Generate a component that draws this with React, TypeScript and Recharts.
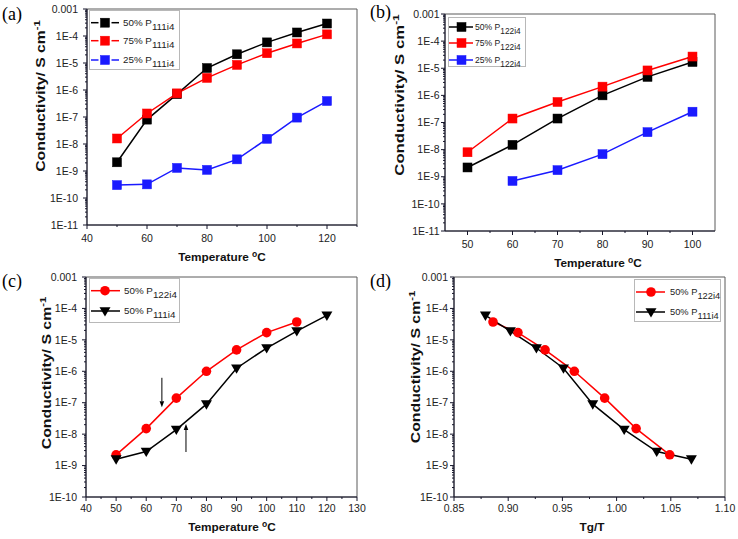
import React from 'react';
import { LineChart, Line, XAxis, YAxis, ReferenceArea, ReferenceLine } from 'recharts';

// ---------- Panel (a): P111i4 ----------
const tempA = [50, 60, 70, 80, 90, 100, 110, 120];
const a50P111 = [2.1e-9, 8e-8, 7e-7, 6.5e-6, 2.1e-5, 5.8e-5, 1.35e-4, 2.9e-4];
const a75P111 = [1.6e-8, 1.35e-7, 7.5e-7, 2.8e-6, 8.5e-6, 2.3e-5, 5.3e-5, 1.15e-4];
const a25P111 = [3e-10, 3.2e-10, 1.3e-9, 1.1e-9, 2.7e-9, 1.55e-8, 9.5e-8, 3.9e-7];

// ---------- Panel (b): P122i4 ----------
const tempB = [50, 60, 70, 80, 90, 100];
const b50P122 = [2.2e-9, 1.5e-8, 1.4e-7, 1.0e-6, 4.8e-6, 1.7e-5];
const b75P122 = [8e-9, 1.4e-7, 5.7e-7, 2.1e-6, 8.3e-6, 2.7e-5];
const tempB25 = [60, 70, 80, 90, 100];
const b25P122 = [7e-10, 1.75e-9, 6.8e-9, 4.4e-8, 2.5e-7];

// ---------- Panel (c): 50% comparison vs temperature ----------
const tempC122 = [50, 60, 70, 80, 90, 100, 110];
const c50P122 = [2.2e-9, 1.5e-8, 1.4e-7, 1.0e-6, 4.8e-6, 1.7e-5, 3.7e-5];
const tempC111 = [50, 60, 70, 80, 90, 100, 110, 120];
const c50P111 = [1.6e-9, 2.8e-9, 1.4e-8, 9e-8, 1.25e-6, 5.5e-6, 1.9e-5, 6e-5];
// arrows in (c): [x, yStart, yEnd]
const arrowDown = [65.2, 6.2e-7, 7.2e-8];
const arrowUp = [73.2, 2.7e-9, 2.1e-8];

// ---------- Panel (d): 50% comparison vs Tg/T ----------
const tgT122 = [0.886, 0.909, 0.934, 0.961, 0.989, 1.018, 1.049];
const d50P122 = [3.7e-5, 1.7e-5, 4.8e-6, 1.0e-6, 1.4e-7, 1.5e-8, 2.2e-9];
const tgT111 = [0.879, 0.902, 0.926, 0.951, 0.978, 1.007, 1.037, 1.069];
const d50P111 = [6e-5, 1.9e-5, 5.5e-6, 1.25e-6, 9e-8, 1.4e-8, 2.8e-9, 1.6e-9];

// ---------- Tick values and labels ----------
const yTickLabels = ['0.001', '1E-4', '1E-5', '1E-6', '1E-7', '1E-8', '1E-9', '1E-10', '1E-11'];
const xTicksA = [40, 50, 60, 70, 80, 90, 100, 110, 120, 130];
const xMajorsA = [40, 60, 80, 100, 120];
const xLabelsA = ['40', '60', '80', '100', '120'];
const xTicksB = [50, 55, 60, 65, 70, 75, 80, 85, 90, 95, 100];
const xMajorsB = [50, 60, 70, 80, 90, 100];
const xLabelsB = ['50', '60', '70', '80', '90', '100'];
const xTicksC = [40, 45, 50, 55, 60, 65, 70, 75, 80, 85, 90, 95, 100, 105, 110, 115, 120, 125, 130];
const xMajorsC = [40, 50, 60, 70, 80, 90, 100, 110, 120, 130];
const xLabelsC = ['40', '50', '60', '70', '80', '90', '100', '110', '120', '130'];
const xTicksD = [0.85, 0.875, 0.9, 0.925, 0.95, 0.975, 1.0, 1.025, 1.05, 1.075, 1.1];
const xMajorsD = [0.85, 0.9, 0.95, 1.0, 1.05, 1.1];
const xLabelsD = ['0.85', '0.90', '0.95', '1.00', '1.05', '1.10'];

const FONT = '"Liberation Sans", Arial, sans-serif';
const AXIS = '#15152a';
const FRAME = '#5a5a5a';
const TICK_C = '#222';
const TICK_FS = 10.5;
const RED = '#ff0000';
const BLUE = '#1a1aff';
const BLACK = '#000000';

const logTicks = (lo: number, hi: number) => {
  const arr: number[] = [];
  for (let e = lo; e < hi; e++) {
    for (let m = 1; m < 10; m++) arr.push(m * Number('1e' + e));
  }
  arr.push(Number('1e' + hi));
  return arr;
};
const yTicks11 = logTicks(-11, -3);
const yTicks10 = logTicks(-10, -3);

const zip = (xs: number[], ys: number[]) => xs.map((x, i) => ({ x, y: ys[i] }));

type Marker = 'square' | 'circle' | 'tri';

const drawMarker = (marker: Marker, color: string, cx: number, cy: number, key?: any) => {
  if (marker === 'square') {
    return <rect key={key} x={cx - 4.5} y={cy - 4.5} width={9} height={9} fill={color} stroke={color} strokeWidth={0.5} />;
  }
  if (marker === 'circle') {
    return <circle key={key} cx={cx} cy={cy} r={4.8} fill={color} />;
  }
  return (
    <polygon
      key={key}
      points={`${cx - 5.5},${cy - 3.8} ${cx + 5.5},${cy - 3.8} ${cx},${cy + 5.5}`}
      fill={color}
    />
  );
};

const dotRenderer = (marker: Marker, color: string) => (p: any) => {
  const { cx, cy, index } = p;
  if (cx == null || cy == null) return <g key={index} />;
  return drawMarker(marker, color, cx, cy, index);
};

const makeYTick = (gap: number) => (p: any) => {
  const { x, y, payload } = p;
  const v = payload.value as number;
  const lg = Math.log10(v);
  const e = Math.round(lg);
  const major = Math.abs(lg - e) < 1e-6;
  const len = major ? 4 : 2;
  return (
    <g>
      <line x1={x - len} y1={y} x2={x} y2={y} stroke={AXIS} strokeWidth={1} />
      {major ? (
        <text x={x - gap} y={y} dy="0.35em" textAnchor="end" fontSize={TICK_FS} fontFamily={FONT} fill={TICK_C}>
          {yTickLabels[-3 - e]}
        </text>
      ) : null}
    </g>
  );
};

const makeXTick = (majors: number[], labels: string[], offset: number) => (p: any) => {
  const { x, y, payload } = p;
  const v = payload.value as number;
  const i = majors.findIndex((m) => Math.abs(m - v) < 1e-9);
  const len = i >= 0 ? 4 : 2;
  return (
    <g>
      <line x1={x} y1={y} x2={x} y2={y + len} stroke={AXIS} strokeWidth={1} />
      {i >= 0 ? (
        <text x={x} y={y + offset} dy="0.35em" textAnchor="middle" fontSize={TICK_FS} fontFamily={FONT} fill={TICK_C}>
          {labels[i]}
        </text>
      ) : null}
    </g>
  );
};

const ArrowShape = (props: any) => {
  const { x1, y1, x2, y2 } = props;
  const dir = y2 > y1 ? 1 : -1;
  const head = 6;
  const hw = 2.3;
  return (
    <g>
      <line x1={x1} y1={y1} x2={x2} y2={y2 - dir * head} stroke="#000" strokeWidth={1} />
      <polygon points={`${x2 - hw},${y2 - dir * head} ${x2 + hw},${y2 - dir * head} ${x2},${y2}`} fill="#000" />
    </g>
  );
};

type Series = { key: string; color: string; marker: Marker; data: { x: number; y: number }[] };

type PanelProps = {
  left: number;
  top: number;
  width: number;
  height: number;
  margin: { top: number; right: number; bottom: number; left: number };
  yWidth: number;
  yGap: number;
  xDomain: [number, number];
  xTicks: number[];
  xMajors: number[];
  xLabels: string[];
  xOffset: number;
  yDomain: [number, number];
  yTicks: number[];
  series: Series[];
  extra?: React.ReactNode[];
};

const Panel = (pp: PanelProps) => (
  <div style={{ position: 'absolute', left: pp.left, top: pp.top }}>
    <LineChart width={pp.width} height={pp.height} margin={pp.margin}>
      <XAxis
        type="number"
        dataKey="x"
        domain={pp.xDomain}
        allowDataOverflow
        ticks={pp.xTicks}
        interval={0}
        height={30}
        tickSize={0}
        tickMargin={0}
        tickLine={false}
        axisLine={{ stroke: AXIS, strokeWidth: 1 }}
        tick={makeXTick(pp.xMajors, pp.xLabels, pp.xOffset)}
      />
      <YAxis
        type="number"
        scale="log"
        domain={pp.yDomain}
        allowDataOverflow
        ticks={pp.yTicks}
        interval={0}
        width={pp.yWidth}
        tickSize={0}
        tickMargin={0}
        tickLine={false}
        axisLine={{ stroke: AXIS, strokeWidth: 1 }}
        tick={makeYTick(pp.yGap)}
      />
      <ReferenceArea
        x1={pp.xDomain[0]}
        x2={pp.xDomain[1]}
        y1={pp.yDomain[0]}
        y2={pp.yDomain[1]}
        fill="none"
        fillOpacity={0}
        stroke={FRAME}
        strokeWidth={1}
      />
      {pp.series.map((s) => (
        <Line
          key={s.key}
          data={s.data}
          dataKey="y"
          stroke={s.color}
          strokeWidth={1.5}
          dot={dotRenderer(s.marker, s.color)}
          activeDot={false}
          isAnimationActive={false}
        />
      ))}
      {pp.extra}
    </LineChart>
  </div>
);

// ---------- overlays ----------
const YTitle = ({ cx, cy, length }: { cx: number; cy: number; length: number }) => (
  <div
    style={{
      position: 'absolute',
      left: cx,
      top: cy,
      transform: `translate(-50%,-50%) rotate(-90deg) scaleX(${length / 116})`,
      whiteSpace: 'nowrap',
      fontFamily: FONT,
      fontWeight: 'bold',
      fontSize: 12,
      lineHeight: '14px',
      color: '#111',
    }}
  >
    Conductivity/ S cm
    <span style={{ fontSize: 8.5, position: 'relative', top: -5 }}>-1</span>
  </div>
);

const XTitle = ({ cx, cy, children }: { cx: number; cy: number; children: React.ReactNode }) => (
  <div
    style={{
      position: 'absolute',
      left: cx,
      top: cy,
      transform: 'translate(-50%,-50%)',
      whiteSpace: 'nowrap',
      fontFamily: FONT,
      fontWeight: 'bold',
      fontSize: 11.8,
      lineHeight: '14px',
      color: '#111',
    }}
  >
    {children}
  </div>
);

const PanelLabel = ({ x, cy, text }: { x: number; cy: number; text: string }) => (
  <div
    style={{
      position: 'absolute',
      left: x,
      top: cy - 9,
      fontFamily: '"Liberation Serif", "Times New Roman", serif',
      fontSize: 18,
      lineHeight: '18px',
      color: '#000',
    }}
  >
    {text}
  </div>
);

type LegItem = { label: string; sub: string; color: string; marker: Marker };

const LegendBox = ({
  left,
  top,
  width,
  height,
  rows,
  items,
  s0,
  s1,
  mx,
  tx,
  fs,
  subFs,
  gapLine,
}: {
  left: number;
  top: number;
  width: number;
  height: number;
  rows: number[];
  items: LegItem[];
  s0: number;
  s1: number;
  mx: number;
  tx: number;
  fs: number;
  subFs: number;
  gapLine: boolean;
}) => (
  <svg style={{ position: 'absolute', left, top, overflow: 'visible' }} width={width} height={height}>
    <rect x={0.5} y={0.5} width={width - 1} height={height - 1} fill="#fff" stroke="#b8b8b8" strokeWidth={1} />
    {items.map((it, i) => {
      const y = rows[i];
      return (
        <g key={it.label + it.sub}>
          {gapLine ? (
            <>
              <line x1={s0} y1={y} x2={mx - 6.5} y2={y} stroke={it.color} strokeWidth={1.5} />
              <line x1={mx + 6.5} y1={y} x2={s1} y2={y} stroke={it.color} strokeWidth={1.5} />
            </>
          ) : (
            <line x1={s0} y1={y} x2={s1} y2={y} stroke={it.color} strokeWidth={1.5} />
          )}
          {drawMarker(it.marker, it.color, mx, y)}
          <text x={tx} y={y} dy="0.35em" fontSize={fs} fontFamily={FONT} fill="#222">
            {it.label}
            <tspan dy={3.5} fontSize={subFs}>
              {it.sub}
            </tspan>
          </text>
        </g>
      );
    })}
  </svg>
);

export default function App() {
  const seriesA: Series[] = [
    { key: 'a50', color: BLACK, marker: 'square', data: zip(tempA, a50P111) },
    { key: 'a75', color: RED, marker: 'square', data: zip(tempA, a75P111) },
    { key: 'a25', color: BLUE, marker: 'square', data: zip(tempA, a25P111) },
  ];
  const seriesB: Series[] = [
    { key: 'b50', color: BLACK, marker: 'square', data: zip(tempB, b50P122) },
    { key: 'b75', color: RED, marker: 'square', data: zip(tempB, b75P122) },
    { key: 'b25', color: BLUE, marker: 'square', data: zip(tempB25, b25P122) },
  ];
  const seriesC: Series[] = [
    { key: 'c122', color: RED, marker: 'circle', data: zip(tempC122, c50P122) },
    { key: 'c111', color: BLACK, marker: 'tri', data: zip(tempC111, c50P111) },
  ];
  const seriesD: Series[] = [
    { key: 'd122', color: RED, marker: 'circle', data: zip(tgT122, d50P122) },
    { key: 'd111', color: BLACK, marker: 'tri', data: zip(tgT111, d50P111) },
  ];

  const arrowsC = [
    <ReferenceLine
      key="arrDown"
      segment={[
        { x: arrowDown[0], y: arrowDown[1] },
        { x: arrowDown[0], y: arrowDown[2] },
      ]}
      stroke="#000"
      shape={ArrowShape}
      ifOverflow="visible"
    />,
    <ReferenceLine
      key="arrUp"
      segment={[
        { x: arrowUp[0], y: arrowUp[1] },
        { x: arrowUp[0], y: arrowUp[2] },
      ]}
      stroke="#000"
      shape={ArrowShape}
      ifOverflow="visible"
    />,
  ];

  return (
    <div
      style={{
        position: 'absolute',
        left: 0,
        top: 0,
        width: 738,
        height: 539,
        background: '#fff',
        overflow: 'hidden',
        fontFamily: FONT,
      }}
    >
      <Panel
        left={0}
        top={0}
        width={370}
        height={270}
        margin={{ top: 9, right: 13, bottom: 15, left: 0 }}
        yWidth={87}
        yGap={9}
        xDomain={[40, 130]}
        xTicks={xTicksA}
        xMajors={xMajorsA}
        xLabels={xLabelsA}
        xOffset={13}
        yDomain={[1e-11, 1e-3]}
        yTicks={yTicks11}
        series={seriesA}
      />
      <Panel
        left={368}
        top={0}
        width={370}
        height={270}
        margin={{ top: 14, right: 23, bottom: 9, left: 0 }}
        yWidth={77}
        yGap={5.5}
        xDomain={[45, 105]}
        xTicks={xTicksB}
        xMajors={xMajorsB}
        xLabels={xLabelsB}
        xOffset={13}
        yDomain={[1e-11, 1e-3]}
        yTicks={yTicks11}
        series={seriesB}
      />
      <Panel
        left={0}
        top={270}
        width={370}
        height={269}
        margin={{ top: 7, right: 13, bottom: 12, left: 0 }}
        yWidth={86}
        yGap={9}
        xDomain={[40, 130]}
        xTicks={xTicksC}
        xMajors={xMajorsC}
        xLabels={xLabelsC}
        xOffset={11}
        yDomain={[1e-10, 1e-3]}
        yTicks={yTicks10}
        series={seriesC}
        extra={arrowsC}
      />
      <Panel
        left={368}
        top={270}
        width={370}
        height={269}
        margin={{ top: 7, right: 13, bottom: 12, left: 0 }}
        yWidth={86}
        yGap={6}
        xDomain={[0.85, 1.1]}
        xTicks={xTicksD}
        xMajors={xMajorsD}
        xLabels={xLabelsD}
        xOffset={11}
        yDomain={[1e-10, 1e-3]}
        yTicks={yTicks10}
        series={seriesD}
      />

      <PanelLabel x={2} cy={14} text="(a)" />
      <PanelLabel x={370} cy={12} text="(b)" />
      <PanelLabel x={2} cy={281} text="(c)" />
      <PanelLabel x={370} cy={281} text="(d)" />

      <YTitle cx={41} cy={96} length={152} />
      <YTitle cx={400} cy={95} length={162} />
      <YTitle cx={47} cy={373} length={153} />
      <YTitle cx={416} cy={367} length={153} />

      <XTitle cx={222} cy={257}>
        Temperature <span style={{ fontSize: 8.5, position: 'relative', top: -4 }}>o</span>C
      </XTitle>
      <XTitle cx={598} cy={263}>
        Temperature <span style={{ fontSize: 8.5, position: 'relative', top: -4 }}>o</span>C
      </XTitle>
      <XTitle cx={232} cy={527}>
        Temperature <span style={{ fontSize: 8.5, position: 'relative', top: -4 }}>o</span>C
      </XTitle>
      <XTitle cx={592} cy={527}>Tg/T</XTitle>

      <LegendBox
        left={89}
        top={10}
        width={91}
        height={60}
        rows={[12.7, 30.7, 50]}
        items={[
          { label: '50% P', sub: '111i4', color: BLACK, marker: 'square' },
          { label: '75% P', sub: '111i4', color: RED, marker: 'square' },
          { label: '25% P', sub: '111i4', color: BLUE, marker: 'square' },
        ]}
        s0={2}
        s1={30}
        mx={16}
        tx={34}
        fs={9.8}
        subFs={9.8}
        gapLine={true}
      />
      <LegendBox
        left={448}
        top={17}
        width={78}
        height={50}
        rows={[10, 26, 43]}
        items={[
          { label: '50% P', sub: '122i4', color: BLACK, marker: 'square' },
          { label: '75% P', sub: '122i4', color: RED, marker: 'square' },
          { label: '25% P', sub: '122i4', color: BLUE, marker: 'square' },
        ]}
        s0={1}
        s1={25}
        mx={13.5}
        tx={27}
        fs={8.6}
        subFs={8.3}
        gapLine={false}
      />
      <LegendBox
        left={89}
        top={278}
        width={91}
        height={45}
        rows={[12.7, 33]}
        items={[
          { label: '50% P', sub: '122i4', color: RED, marker: 'circle' },
          { label: '50% P', sub: '111i4', color: BLACK, marker: 'tri' },
        ]}
        s0={2}
        s1={31}
        mx={16}
        tx={35}
        fs={9.8}
        subFs={9.8}
        gapLine={false}
      />
      <LegendBox
        left={634}
        top={279}
        width={87}
        height={43}
        rows={[13, 33]}
        items={[
          { label: '50% P', sub: '122i4', color: RED, marker: 'circle' },
          { label: '50% P', sub: '111i4', color: BLACK, marker: 'tri' },
        ]}
        s0={2}
        s1={31}
        mx={17}
        tx={36}
        fs={9.3}
        subFs={9.3}
        gapLine={false}
      />
    </div>
  );
}
